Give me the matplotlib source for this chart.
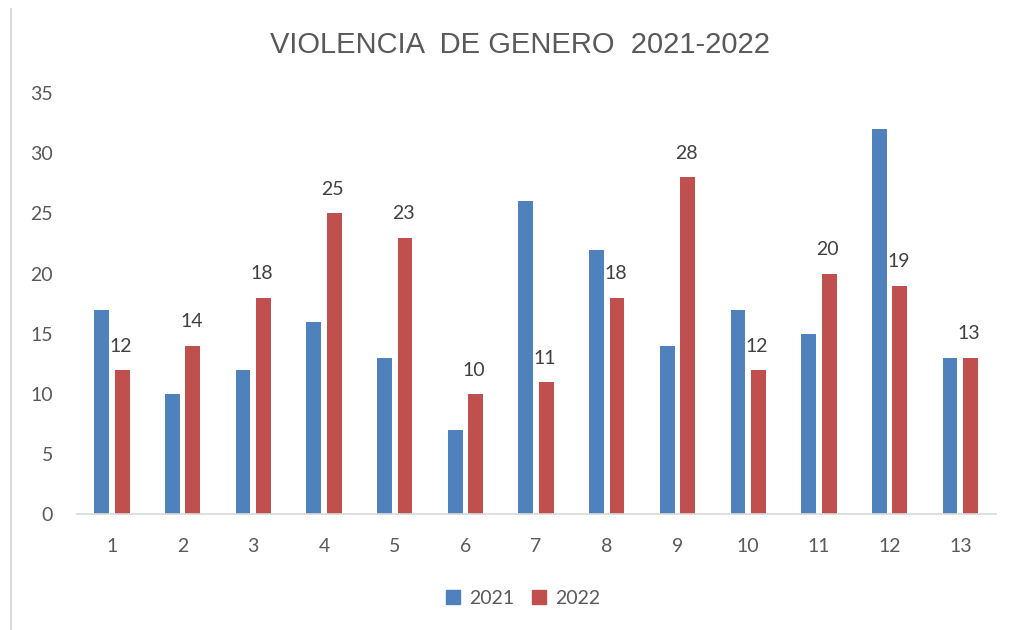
import matplotlib
matplotlib.use("Agg")
import matplotlib.pyplot as plt
import numpy as np
from matplotlib.patches import Patch
from matplotlib.lines import Line2D

categories = ["1", "2", "3", "4", "5", "6", "7", "8", "9", "10", "11", "12", "13"]
v2021 = [17, 10, 12, 16, 13, 7, 26, 22, 14, 17, 15, 32, 13]
v2022 = [12, 14, 18, 25, 23, 10, 11, 18, 28, 12, 20, 19, 13]
yticks = [0, 5, 10, 15, 20, 25, 30, 35]

BLUE = "#4F81BD"
RED = "#C0504D"
TXT = "#595959"

plt.rcParams['font.family'] = ['Lato', 'DejaVu Sans']

fig = plt.figure(figsize=(10.1, 6.3), dpi=100)
ax = fig.add_axes([0.0758, 0.184, 0.910, 0.668])

x = np.arange(len(categories))
w = 0.21
off = 0.145
ax.bar(x - off, v2021, width=w, color=BLUE)
ax.bar(x + off, v2022, width=w, color=RED)
for xi, v in zip(x, v2022):
    ax.annotate(str(v), (xi + off, v), xytext=(-1, 11), textcoords="offset points",
                ha="center", va="bottom", fontsize=14, color="#404040")

ax.set_xlim(-0.5, len(categories) - 0.5)
ax.set_ylim(0, 35)
ax.set_yticks(yticks)
ax.set_xticks(x)
ax.set_xticklabels(categories)
ax.tick_params(axis="both", length=0, labelsize=14, colors=TXT)
ax.tick_params(axis="x", pad=17)
ax.tick_params(axis="y", pad=17)
for s in ["top", "right", "left"]:
    ax.spines[s].set_visible(False)
ax.spines["bottom"].set_color("#D9D9D9")
ax.spines["bottom"].set_linewidth(1.2)

fig.text(0.515, 0.928, "VIOLENCIA  DE GENERO  2021-2022",
         family=['Liberation Sans Narrow', 'Liberation Sans', 'DejaVu Sans'],
         fontsize=21, color=TXT, ha="center", va="center")

handles = [Patch(color=BLUE, label="2021"), Patch(color=RED, label="2022")]
fig.legend(handles=handles, loc="center", bbox_to_anchor=(0.518, 0.05), ncol=2,
           frameon=False, fontsize=14, labelcolor=TXT, handlelength=0.7,
           handleheight=0.7, handletextpad=0.5, columnspacing=0.9)

fig.add_artist(Line2D([0.0105, 0.0105], [0.0, 0.985], color="#D9D9D9", lw=1.5,
                      transform=fig.transFigure))

fig.savefig("out.png", dpi=100)
